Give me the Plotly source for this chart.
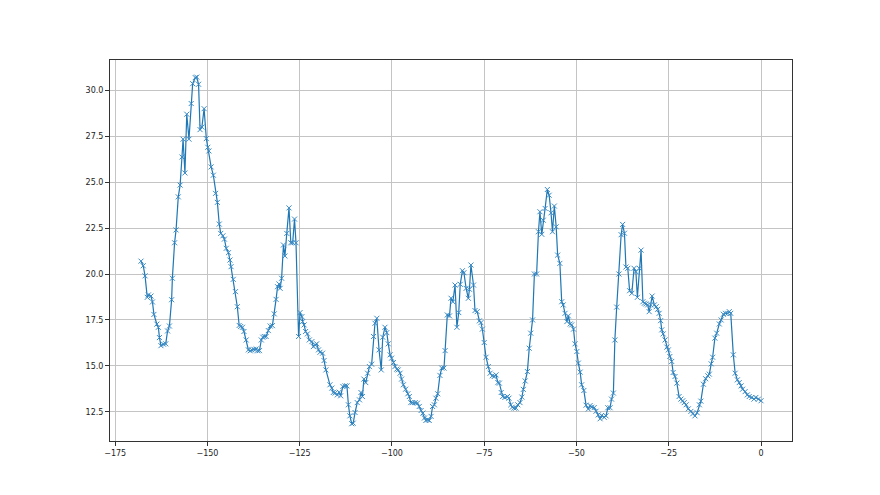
import plotly.graph_objects as go

x_vals = [
    -168.0, -167.4, -166.9, -166.3, -166.0, -165.3, -164.9, -164.5, -163.7, -163.3, -163.0, -162.6, -161.9, -161.3,
    -160.8, -160.3, -159.7, -159.5, -158.9, -158.5, -157.9, -157.4, -156.9, -156.6, -156.1, -155.6, -155.0, -154.4,
    -154.0, -153.3, -152.9, -152.4, -152.0, -151.5, -150.9, -150.3, -149.9, -149.6, -149.0, -148.4, -147.8, -147.3,
    -146.8, -146.4, -145.8, -145.4, -144.9, -144.3, -143.9, -143.6, -143.0, -142.4, -141.9, -141.4,
    -141.0, -140.5, -140.1, -139.5, -138.9, -138.4, -138.0, -137.4, -136.8, -136.4, -135.9, -135.4, -135.0, -134.6,
    -134.1, -133.5, -133.0, -132.4, -131.9, -131.4, -131.0, -130.6, -130.3, -129.9, -129.4, -129.0, -128.5, -127.9,
    -127.4, -126.9, -126.4, -126.0, -125.3, -124.9, -124.4, -124.2, -123.8, -123.4, -122.9, -122.4, -121.7, -121.3,
    -120.8, -120.4, -119.9, -119.5, -118.8, -118.4, -117.9,
    -116.8, -116.3, -115.9, -115.4, -114.8, -114.3, -113.9, -113.3, -112.7, -112.2, -111.8, -111.4, -110.9, -110.5,
    -110.0, -109.4, -108.8, -108.4, -108.0, -107.6, -107.1, -106.6, -106.1, -105.5, -105.0, -104.6, -104.1, -103.5,
    -102.9, -102.5, -101.9, -101.4, -101.0, -100.5, -100.1, -99.6, -99.2, -98.7, -98.3, -97.8, -97.4, -96.9, -96.3,
    -95.7, -95.3, -94.9, -94.4, -93.7, -93.1, -92.6, -92.1, -91.6, -91.2, -90.8, -90.3, -89.9, -89.4, -89.0, -88.5,
    -88.1, -87.6, -87.0,
    -86.5, -85.9, -85.6, -85.0, -84.4, -84.0, -83.5, -82.9, -82.4, -81.9, -81.5, -80.9, -80.5, -79.9, -79.3, -79.0,
    -78.6, -77.9, -77.5, -76.9, -76.3, -75.9, -75.5, -75.0, -74.5, -73.9, -73.4, -72.8, -72.3, -71.8, -71.3, -70.9,
    -70.4, -70.0, -69.4, -68.7, -68.3, -67.8, -67.4, -66.9, -66.4, -65.9, -65.3, -64.8, -64.4, -63.9, -63.3, -62.8,
    -62.4, -61.9, -61.4, -60.8,
    -60.3, -59.9, -59.4, -59.0, -58.5, -57.9, -57.4, -56.9, -56.5, -56.0, -55.5, -55.1, -54.5, -54.0, -53.6, -53.1,
    -52.6, -52.2, -51.7, -51.3, -50.8, -50.4, -49.9, -49.5, -49.0, -48.6, -48.0, -47.4, -46.8, -46.3, -45.9, -45.2,
    -44.7, -44.1, -43.6, -43.2, -42.5, -42.0, -41.5, -40.9, -40.5, -40.0, -39.6, -39.1, -38.5, -37.9, -37.5, -37.0,
    -36.6, -36.1, -35.6,
    -35.0, -34.4, -33.9, -33.5, -33.0, -32.5, -32.0, -31.6, -31.2, -30.7, -30.3, -29.9, -29.5, -28.9, -28.4, -28.0,
    -27.6, -27.2, -26.9, -26.5, -26.0, -25.5, -25.1, -24.7, -24.2, -23.8, -23.3, -22.8, -22.2, -21.7, -21.2, -20.8,
    -20.3, -19.7, -19.0, -18.5, -17.9, -17.3, -16.7, -16.3, -15.6, -15.0, -14.4, -14.0,
    -13.5, -13.1, -12.5, -12.0, -11.3, -10.8, -10.2, -9.6, -9.0, -8.6, -8.2, -7.5, -7.0, -6.4, -5.9, -5.4, -5.0,
    -4.3, -3.7, -3.2, -2.5, -1.9, -1.4, -0.7, 0.0,
]

y_vals = [
    20.7, 20.45, 19.9, 18.73, 18.86, 18.8, 18.48, 17.8, 17.27, 17.1, 16.54, 16.1, 16.18, 16.2,
    16.9, 17.17, 18.6, 19.77, 21.7, 22.4, 24.2, 24.84, 26.37, 27.34, 25.5, 28.7, 27.34, 29.28,
    30.36, 30.69, 30.72, 30.33, 27.86, 28.0, 29.0, 27.37, 26.9, 26.7, 25.83, 25.38, 24.39, 23.9,
    22.72, 22.21, 22.08, 21.9, 21.4, 21.16, 20.76, 20.4, 19.71, 19.04, 18.22, 17.2,
    17.14, 17.1, 16.87, 16.41, 15.87, 15.82, 15.87, 15.9, 15.92, 15.82, 15.83, 16.41, 16.56, 16.6,
    16.6, 16.92, 17.17, 17.19, 17.83, 18.62, 19.31, 19.46, 19.22, 19.77, 21.58, 20.98, 22.21, 23.6,
    21.7, 21.7, 22.99, 21.7, 16.6, 17.9, 17.68, 17.41, 17.23, 16.87, 16.74, 16.41, 16.32, 16.05,
    16.14, 16.2, 15.87, 15.74, 15.69, 15.29, 14.78,
    13.97, 13.79, 13.55, 13.52, 13.42, 13.57, 13.37, 13.88, 13.91, 13.91, 12.88, 12.28, 11.85, 11.88,
    12.46, 13.0, 13.15, 13.55, 13.33, 14.28, 14.09, 14.6, 14.96, 15.09, 16.6, 17.32, 17.59, 15.87,
    14.78, 16.56, 17.1, 16.81, 16.2, 15.6, 15.42, 15.18, 14.96, 14.82, 14.78, 14.6, 14.28, 13.97, 13.73,
    13.48, 13.33, 13.0, 13.0, 13.0, 12.97, 12.79, 12.57, 12.43, 12.16, 12.03, 12.07, 12.03, 12.25, 12.79, 12.88,
    13.24, 13.48, 14.48,
    14.88, 14.88, 15.83, 17.77, 17.72, 18.68, 18.49, 19.4, 17.1, 17.9, 19.44, 20.18, 20.07, 19.22, 18.68, 19.17,
    20.49, 19.4, 18.01, 17.95, 17.45, 17.35, 17.0, 16.27, 15.47, 14.96, 14.6, 14.46, 14.42, 14.51, 14.09, 14.06,
    13.55, 13.33, 13.28, 13.33, 13.24, 12.88, 12.75, 12.7, 12.7, 12.88, 13.0, 13.3, 13.72, 14.18, 14.69, 15.96,
    16.78, 17.5, 20.0, 20.0,
    22.3, 23.39, 22.16, 22.93, 23.57, 24.6, 24.29, 23.33, 22.3, 23.7, 22.57, 21.03, 20.58, 18.49, 18.32, 17.86,
    17.41, 17.72, 17.28, 17.23, 17.0, 16.2, 15.78, 15.15, 14.66, 13.97, 13.66, 12.86, 12.65, 12.84, 12.75, 12.73,
    12.53, 12.33, 12.12, 12.3, 12.2, 12.28, 12.72, 12.72, 13.19, 13.52, 16.41, 18.2, 20.0, 22.14, 22.7, 22.22,
    20.38, 20.31, 19.09,
    18.95, 20.31, 20.13, 18.73, 20.31, 21.3, 18.49, 18.41, 18.37, 18.32, 17.95, 18.32, 18.8, 18.32, 18.22, 18.08,
    17.86, 17.46, 16.96, 16.74, 16.41, 16.02, 15.87, 15.51, 15.24, 14.64, 14.42, 14.06, 13.33, 13.19, 13.1, 13.0,
    12.88, 12.66, 12.52, 12.39, 12.28, 12.45, 12.88, 13.08, 14.0, 14.3, 14.46, 14.55,
    15.11, 15.47, 16.51, 16.78, 17.28, 17.5, 17.81, 17.86, 17.86, 17.95, 17.86, 15.6, 14.6, 14.24, 14.09, 13.91, 13.73,
    13.6, 13.42, 13.33, 13.28, 13.19, 13.28, 13.19, 13.1,
]

x_ticks = [-175, -150, -125, -100, -75, -50, -25, 0]
x_tick_text = ["−175", "−150", "−125", "−100", "−75", "−50", "−25", "0"]
y_ticks = [12.5, 15.0, 17.5, 20.0, 22.5, 25.0, 27.5, 30.0]
y_tick_text = ["12.5", "15.0", "17.5", "20.0", "22.5", "25.0", "27.5", "30.0"]

fig = go.Figure()
fig.add_trace(go.Scatter(
    x=x_vals, y=y_vals, mode="lines+markers",
    line=dict(color="#1f77b4", width=1.2),
    marker=dict(symbol="x-thin", size=5, line=dict(color="#3a8ac4", width=1), color="#3a8ac4"),
    showlegend=False,
))

axis_common = dict(
    showgrid=True, gridcolor="#c4c4c4", gridwidth=1,
    showline=True, linecolor="#333333", linewidth=1, mirror=True,
    ticks="outside", ticklen=4, tickcolor="#333333", tickwidth=1,
    zeroline=False, tickfont=dict(family="DejaVu Sans", size=8, color="#222222"),
)

fig.update_xaxes(range=[-176.4, 8.4], tickvals=x_ticks, ticktext=x_tick_text, **axis_common)
fig.update_yaxes(range=[10.91, 31.65], tickvals=y_ticks, ticktext=y_tick_text, **axis_common)

fig.update_layout(
    width=880, height=495,
    margin=dict(l=102, r=96, t=52, b=62),
    plot_bgcolor="white", paper_bgcolor="white",
)

fig.write_html("out.html")
